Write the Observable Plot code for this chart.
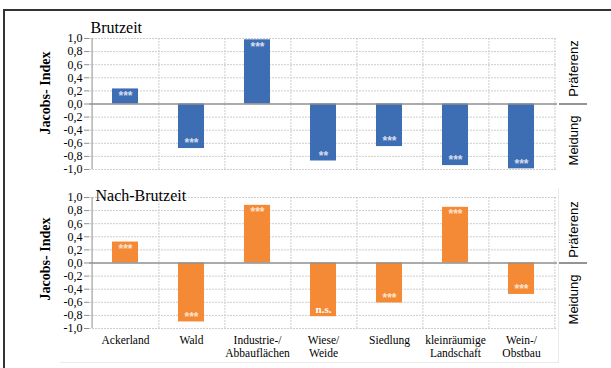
<!DOCTYPE html>
<html>
<head>
<meta charset="utf-8">
<script src="https://cdn.jsdelivr.net/npm/d3@7"></script>
<script src="https://cdn.jsdelivr.net/npm/@observablehq/plot@0.6"></script>
<style>
  html, body { margin: 0; padding: 0; background: #fff; }
  #wrap { position: relative; width: 611px; height: 368px; overflow: hidden; background: #fff; }
  #wrap > div.panel { position: absolute; left: 0; }
  #frame { position: absolute; left: 3px; top: 9px; width: 620px; height: 400px;
           border-top: 2px solid #333; border-left: 2px solid #333; box-sizing: border-box; }
  #area { position: absolute; left: 60px; top: 188px; width: 499px; height: 175px;
          border-right: 1px solid #eaeaea; border-bottom: 1px solid #eaeaea; box-sizing: border-box; }
  #wrap svg g[aria-label*="axis"],
  #wrap svg g[aria-label*="axis"] text { font-family: 'Liberation Serif', 'Times New Roman', serif !important; }
</style>
</head>
<body>
<div id="wrap">
  <div id="area"></div>
  <div class="panel" id="top" style="top:0px"></div>
  <div class="panel" id="bottom" style="top:180px"></div>
  <div id="frame"></div>
</div>
<script>
const categories = ["Ackerland", "Wald", "Industrie-/\nAbbauflächen", "Wiese/\nWeide", "Siedlung", "kleinräumige\nLandschaft", "Wein-/\nObstbau"];
const brutzeit = [0.23, -0.68, 0.98, -0.87, -0.65, -0.94, -0.99];
const nachBrutzeit = [0.32, -0.90, 0.88, -0.82, -0.61, 0.85, -0.48];
const sigBrutzeit = ["***", "***", "***", "**", "***", "***", "***"];
const sigNachBrutzeit = ["***", "***", "***", "n.s.", "***", "***", "***"];
const yTicks = [-1.0, -0.8, -0.6, -0.4, -0.2, 0.0, 0.2, 0.4, 0.6, 0.8, 1.0];
const yLabel = "Jacobs- Index";
const sideLabels = ["Präferenz", "Meidung"];

const W = 611, ML = 89, MR = 24, INSET = 30;
const step = (W - ML - MR - INSET) / categories.length;
const fmt = d => d.toFixed(1).replace(".", ",");
const serif = "'Liberation Serif', 'Times New Roman', serif";
const sans = "'Liberation Sans', Arial, sans-serif";

function panel(o) {
  const data = categories.map((c, i) => ({cat: c, value: o.values[i], sig: o.sigs[i]}));
  const isStar = d => d.sig.startsWith("*");
  const starOpts = {x: "cat", y: "value", text: "sig", fill: o.starColor, fontSize: 12,
                    fontFamily: sans, fontWeight: "bold", textAnchor: "middle", lineAnchor: "middle"};
  const nsOpts = {x: "cat", y: "value", text: "sig", fill: "#ffffff", fontSize: 11,
                  fontFamily: serif, fontWeight: "bold", textAnchor: "middle", lineAnchor: "middle"};
  const marks = [
    Plot.ruleY(yTicks.filter(d => d !== 0), {y: d => d, stroke: "#cdcdcd", strokeDasharray: "2,1", insetRight: INSET}),
    Plot.ruleX(categories, {x: d => d, dx: step / 2, stroke: "#cdcdcd", strokeDasharray: "2,1"}),
    Plot.ruleX(categories.slice(0, 1), {x: d => d, dx: -step / 2, stroke: "#8f8f8f"}),
    Plot.barY(data, {x: "cat", y: "value", fill: o.color}),
    Plot.ruleY([0], {stroke: "#8f8f8f", strokeWidth: 1.5, insetRight: INSET}),
    Plot.ruleY([0], {stroke: "#707070", strokeWidth: 1.5, insetLeft: W - ML - MR - INSET + 2}),
    Plot.axisY({ticks: yTicks, tickFormat: fmt, tickSize: 5, tickPadding: 2, fontSize: 12, label: null,
                stroke: "#8f8f8f", fontFamily: serif}),
    Plot.text(data.filter(d => d.value >= 0 && isStar(d)), {...starOpts, dy: 7}),
    Plot.text(data.filter(d => d.value < 0 && isStar(d)), {...starOpts, dy: -5}),
    Plot.text(data.filter(d => d.value < 0 && !isStar(d)), {...nsOpts, dy: -7}),
    Plot.text(data.filter(d => d.value >= 0 && !isStar(d)), {...nsOpts, dy: 7}),
    Plot.text([o.title], {frameAnchor: "top-left", dx: o.titleDx, dy: o.titleDy, textAnchor: "start",
                          lineAnchor: "middle", fontSize: 16, fontFamily: serif}),
    Plot.text([yLabel], {frameAnchor: "left", dx: -44, dy: o.labelDy, rotate: -90, textAnchor: "middle",
                         lineAnchor: "middle", fontSize: 14, fontWeight: "bold", fontFamily: serif}),
    Plot.text([sideLabels[0]], {frameAnchor: "top-right", dx: -14, dy: o.prefDy, rotate: -90, textAnchor: "middle",
                                lineAnchor: "middle", fontSize: 13, fontFamily: sans}),
    Plot.text([sideLabels[1]], {frameAnchor: "bottom-right", dx: -14, dy: o.meidDy, rotate: -90, textAnchor: "middle",
                                lineAnchor: "middle", fontSize: 13, fontFamily: sans})
  ];
  if (o.showX) {
    marks.push(Plot.axisX({tickSize: 0, tickPadding: 7, fontSize: 11.5, lineHeight: 1.1, label: null, fontFamily: serif}));
  }
  return Plot.plot({
    width: W, height: o.height,
    marginLeft: ML, marginRight: MR, marginTop: o.marginTop, marginBottom: o.marginBottom,
    x: {domain: categories, paddingInner: 0.6, paddingOuter: 0.3, insetRight: INSET, axis: o.showX ? undefined : null},
    y: {domain: [-1, 1]},
    style: {fontFamily: serif, background: "transparent", color: "#000", overflow: "visible"},
    marks
  });
}

document.getElementById("top").append(panel({
  title: "Brutzeit", values: brutzeit, sigs: sigBrutzeit,
  color: "#3d6db3", starColor: "#d5dcec",
  height: 180, marginTop: 38, marginBottom: 11, showX: false,
  titleDx: 1, titleDy: -11, labelDy: -11, prefDy: 30, meidDy: -29
}));
document.getElementById("bottom").append(panel({
  title: "Nach-Brutzeit", values: nachBrutzeit, sigs: sigNachBrutzeit,
  color: "#f58a36", starColor: "#fde3cf",
  height: 188, marginTop: 17, marginBottom: 40, showX: true,
  titleDx: 6, titleDy: -2, labelDy: -4, prefDy: 32, meidDy: -29
}));
</script>
</body>
</html>
